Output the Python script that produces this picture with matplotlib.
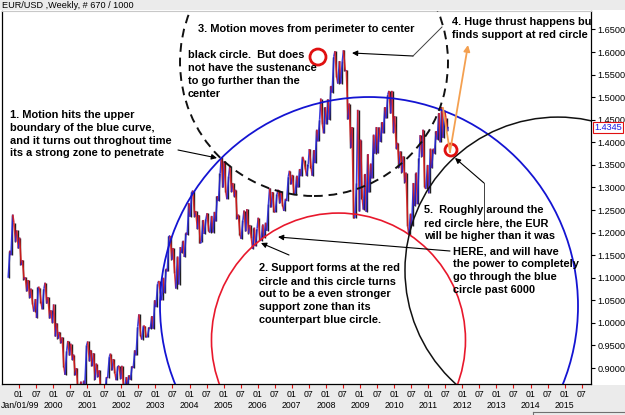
import matplotlib
matplotlib.use("Agg")
import matplotlib.pyplot as plt
import matplotlib.transforms as mtransforms
from matplotlib.patches import Ellipse, Rectangle
from matplotlib.collections import LineCollection
import numpy as np

W, H = 625, 415

title = "EUR/USD ,Weekly, # 670 / 1000"
start_year = 1998 + 8 / 12  # first bar: Sep 1998
last_price = 1.4345

highs = [
    1.160, 1.240, 1.222, 1.205,
    1.189, 1.139, 1.101, 1.095, 1.076, 1.053, 1.080, 1.078, 1.076, 1.089, 1.057, 1.028,
    1.041, 0.999, 0.980, 0.968, 0.938, 0.960, 0.954, 0.930, 0.900, 0.870, 0.872, 0.950,
    0.959, 0.940, 0.933, 0.910, 0.895, 0.862, 0.880, 0.925, 0.932, 0.920, 0.904, 0.905,
    0.905, 0.880, 0.884, 0.904, 0.939, 0.992, 1.019, 0.994, 0.993, 0.990, 1.015, 1.050,
    1.087, 1.093, 1.100, 1.120, 1.193, 1.193, 1.166, 1.147, 1.168, 1.182, 1.200, 1.265,
    1.290, 1.293, 1.248, 1.239, 1.228, 1.230, 1.243, 1.237, 1.246, 1.281, 1.331, 1.367,
    1.358, 1.325, 1.348, 1.310, 1.295, 1.240, 1.227, 1.249, 1.252, 1.217, 1.211, 1.209,
    1.233, 1.218, 1.222, 1.263, 1.298, 1.290, 1.285, 1.295, 1.290, 1.275, 1.324, 1.337,
    1.328, 1.326, 1.341, 1.368, 1.361, 1.351, 1.385, 1.383, 1.428, 1.450, 1.497, 1.478,
    1.495, 1.525, 1.590, 1.602, 1.580, 1.580, 1.604, 1.560, 1.486, 1.434, 1.310, 1.472,
    1.406, 1.330, 1.374, 1.353, 1.417, 1.434, 1.433, 1.445, 1.478, 1.506, 1.514, 1.514,
    1.458, 1.399, 1.380, 1.369, 1.333, 1.242, 1.310, 1.333, 1.366, 1.416, 1.428, 1.350,
    1.386, 1.386, 1.425, 1.465, 1.478, 1.470, 1.455,
]
lows = [
    1.100, 1.150, 1.180, 1.165,
    1.128, 1.096, 1.070, 1.055, 1.042, 1.025, 1.011, 1.044, 1.030, 1.043, 1.010, 1.000,
    0.970, 0.965, 0.955, 0.903, 0.885, 0.928, 0.918, 0.884, 0.845, 0.823, 0.838, 0.865,
    0.915, 0.904, 0.874, 0.880, 0.844, 0.838, 0.840, 0.878, 0.895, 0.888, 0.873, 0.876,
    0.858, 0.857, 0.864, 0.874, 0.900, 0.928, 0.972, 0.963, 0.968, 0.969, 0.987, 0.987,
    1.035, 1.066, 1.050, 1.066, 1.114, 1.140, 1.110, 1.076, 1.085, 1.155, 1.146, 1.195,
    1.235, 1.235, 1.208, 1.176, 1.180, 1.197, 1.203, 1.200, 1.200, 1.225, 1.270, 1.300,
    1.290, 1.274, 1.290, 1.280, 1.230, 1.195, 1.186, 1.203, 1.198, 1.187, 1.164, 1.170,
    1.184, 1.182, 1.188, 1.204, 1.256, 1.246, 1.245, 1.265, 1.260, 1.248, 1.270, 1.307,
    1.286, 1.286, 1.300, 1.325, 1.341, 1.326, 1.344, 1.326, 1.354, 1.402, 1.440, 1.420,
    1.440, 1.450, 1.510, 1.545, 1.530, 1.530, 1.558, 1.451, 1.388, 1.233, 1.232, 1.247,
    1.275, 1.251, 1.246, 1.289, 1.320, 1.375, 1.376, 1.401, 1.420, 1.453, 1.464, 1.421,
    1.386, 1.344, 1.333, 1.311, 1.214, 1.195, 1.215, 1.259, 1.263, 1.368, 1.300, 1.297,
    1.287, 1.343, 1.375, 1.406, 1.400, 1.410, 1.425,
]

y_ticks = [0.90, 0.95, 1.00, 1.05, 1.10, 1.15, 1.20, 1.25, 1.30, 1.35, 1.40,
           1.45, 1.50, 1.55, 1.60, 1.65]
year_ticks = list(range(1999, 2016))
year_labels = ["Jan/01/99"] + [str(y) for y in range(2000, 2016)]

# circles: centre (year, price), radius in screen pixels
circ_t = [2009.264, 2008.369, 2007.651, 2014.806]
circ_p = [1.0374, 0.962, 1.578, 1.117]
circ_r = [209, 127, 134, 153]
circ_color = ['#1414d2', '#e8182c', '#111111', '#111111']
circ_ls = ['-', '-', (0, (4.5, 3)), '-']
circ_lw = [1.3, 1.2, 1.4, 1.1]

# small red marker rings
mark_t = [2007.768, 2011.669]
mark_p = [1.589, 1.383]
mark_r = [8, 6]

fig = plt.figure(figsize=(W / 100, H / 100), dpi=100, facecolor='white')
pxT = mtransforms.Affine2D().scale(1 / W, -1 / H).translate(0, 1) + fig.transFigure

fig.patches.append(Rectangle((0, 0), W, 10.5, transform=pxT, facecolor='#ebebeb',
                             edgecolor='none', zorder=-10))
fig.patches.append(Rectangle((0, 385), W, 30, transform=pxT, facecolor='#ebebeb',
                             edgecolor='none', zorder=-10))

L, R, T, B = 2, 591, 11, 384
ax = fig.add_axes([L / W, 1 - B / H, (R - L) / W, (B - T) / H])
x0px, pxyr = 19.0, 34.1
ref_y, pxpr = 29.5, 451.4
ax.set_xlim(1999 + (L - x0px) / pxyr, 1999 + (R - x0px) / pxyr)
ax.set_ylim(1.65 - (B - ref_y) / pxpr, 1.65 + (ref_y - T) / pxpr)
ax.set_facecolor('white')
for s in ['left', 'bottom', 'right']:
    ax.spines[s].set_color('black')
    ax.spines[s].set_linewidth(0.9)
ax.spines['top'].set_color('#c8c8c8')

# ---- price bars ----
hi = np.array(highs)
lo = np.array(lows)
n = len(hi)
tm = start_year + (np.arange(n) + 0.5) / 12
mid = (hi + lo) / 2
xs, ys = [], []
for i in range(n):
    nxt = mid[i + 1] if i < n - 1 else last_price
    if nxt >= mid[i]:
        a, b = lo[i], hi[i]
    else:
        a, b = hi[i], lo[i]
    xs += [tm[i] - 1 / 40, tm[i] + 1 / 40]
    ys += [a, b]
xs.append(tm[-1] + 1 / 24)
ys.append(last_price)
pts = np.column_stack([xs, ys])
segs = np.stack([pts[:-1], pts[1:]], axis=1)
cols = ['#2626d8' if s[1, 1] >= s[0, 1] else '#d81c1c' for s in segs]
ax.vlines(tm, lo, hi, colors='#202020', linewidth=1.0, zorder=2)
ax.add_collection(LineCollection(segs, colors=cols, linewidths=1.2, zorder=2,
                                 alpha=0.9))

# ---- circles ----
fig.canvas.draw()
p0 = ax.transData.transform((2000.0, 1.0))
p1 = ax.transData.transform((2001.0, 1.1))
ppx = p1[0] - p0[0]
ppy = (p1[1] - p0[1]) / 0.1
for t, p, r, c, ls, lw in zip(circ_t, circ_p, circ_r, circ_color, circ_ls, circ_lw):
    ax.add_patch(Ellipse((t, p), 2 * r / ppx, 2 * r / ppy, fill=False,
                         edgecolor=c, linestyle=ls, linewidth=lw, zorder=4))
for t, p, r in zip(mark_t, mark_p, mark_r):
    ax.add_patch(Ellipse((t, p), 2 * r / ppx, 2 * r / ppy, fill=False,
                         edgecolor='#e01010', linewidth=2.0, zorder=5))

# ---- ticks ----
ax.yaxis.tick_right()
ax.set_yticks(y_ticks)
ax.set_yticklabels(["%.4f" % v for v in y_ticks], fontsize=6.6,
                   fontfamily='Liberation Sans')
ax.tick_params(axis='y', direction='out', length=3, width=0.8, pad=1.5,
               colors='black')
half = [y + h for y in year_ticks for h in (0.0, 0.5)]
ax.set_xticks(half)
ax.set_xticklabels(["01" if abs(v - round(v)) < 1e-6 else "07" for v in half],
                   fontsize=6.3, fontfamily='Liberation Sans')
ax.tick_params(axis='x', direction='out', length=3, width=0.8, pad=1.5,
               color='#e01010', labelcolor='black')
yt = mtransforms.blended_transform_factory(ax.transData, pxT)
for yv, lab in zip(year_ticks, year_labels):
    if yv == 1999:
        ax.text(0.5, 405, lab, transform=pxT, ha='left', va='center',
                fontsize=6.3, fontfamily='Liberation Sans', clip_on=False)
    else:
        ax.text(yv, 405, lab, transform=yt, ha='center', va='center',
                fontsize=6.3, fontfamily='Liberation Sans', clip_on=False)

# ---- title and price tag ----
fig.text(2 / W, 1 - 5.5 / H, title, fontsize=6.6, fontfamily='Liberation Sans',
         va='center', ha='left')
ax.text(594, 127.5, "%.4f" % last_price, transform=pxT, fontsize=6.6,
        fontfamily='Liberation Sans', color='#1a1ae6', va='center', ha='left',
        clip_on=False, zorder=8,
        bbox=dict(boxstyle='square,pad=0.12', facecolor='white',
                  edgecolor='#e01010', linewidth=0.8))

# ---- annotation texts ----
fam = ['Liberation Sans Narrow', 'Liberation Sans']
fs = 7.9
blocks = [
    (10, [115, 128, 140.5, 153], ["1. Motion hits the upper",
                                   "boundary of the blue curve,",
                                   "and it turns out throghout time",
                                   "its a strong zone to penetrate"]),
    (259, [268, 281.5, 294, 307, 320], ["2. Support forms at the red",
                                        "circle and this circle turns",
                                        "out to be a even stronger",
                                        "support zone than its",
                                        "counterpart blue circle."]),
    (198, [29], ["3. Motion moves from perimeter to center"]),
    (188, [55, 68, 81, 94], ["black circle.  But does",
                             "not have the sustenance",
                             "to go further than the",
                             "center"]),
    (452, [22, 35.5], ["4. Huge thrust happens but",
                       "finds support at red circle"]),
    (424, [210, 223, 236], ["5.  Roughly around the",
                            "red circle here, the EUR",
                            "will be higher than it was"]),
    (453, [251, 264, 277, 290], ["HERE, and will have",
                                 "the power to completely",
                                 "go through the blue",
                                 "circle past 6000"]),
]
for x, ylist, lines in blocks:
    for y, s in zip(ylist, lines):
        ax.text(x, y, s, transform=pxT, fontsize=fs, fontweight='bold',
                family=fam, va='center', ha='left', zorder=6, clip_on=True)

# ---- arrows ----
ap = dict(arrowstyle='-|>', color='black', lw=0.8, mutation_scale=8,
          shrinkA=0, shrinkB=0)
arrows = [((178, 150), (217, 158)),
          ((289, 255), (261, 243)),
          ((450, 251), (278, 237)),
          ((413, 56), (352, 53)),
          ((484, 183), (455, 158))]
for (xa, ya), (xb, yb) in arrows:
    ax.annotate("", xy=(xb, yb), xycoords=pxT, xytext=(xa, ya), textcoords=pxT,
                arrowprops=ap, annotation_clip=False, zorder=6)
ax.plot([442, 413], [27, 56], transform=pxT, color='#404040', lw=0.7, zorder=6)
ax.plot([484, 484], [220, 183], transform=pxT, color='#404040', lw=0.7, zorder=6)

# orange thrust path
ax.plot([443, 450], [108, 152], transform=pxT, color='#f4a050', lw=1.3, zorder=6)
ax.annotate("", xy=(468, 45), xycoords=pxT, xytext=(450, 152), textcoords=pxT,
            arrowprops=dict(arrowstyle='-|>', color='#f4a050', lw=1.3,
                            mutation_scale=9, shrinkA=0, shrinkB=0),
            annotation_clip=False, zorder=6)

# small box at bottom right
ax.plot([533, 625], [411.5, 411.5], transform=pxT, color='#707070', lw=0.8,
        clip_on=False)
ax.plot([533, 533], [411.5, 415], transform=pxT, color='#707070', lw=0.8,
        clip_on=False)

fig.savefig("out.png", dpi=100, facecolor=fig.get_facecolor())
